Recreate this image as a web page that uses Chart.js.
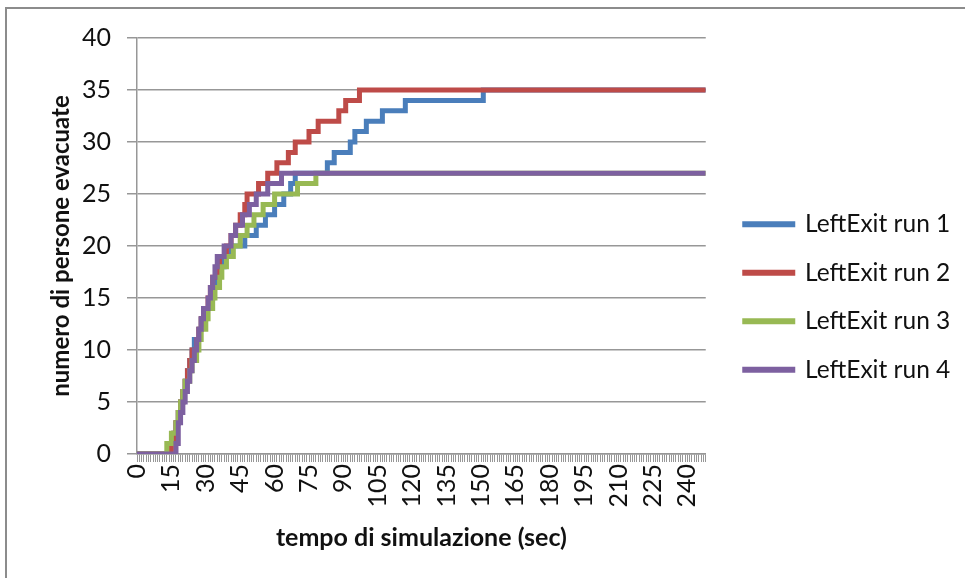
<!DOCTYPE html>
<html>
<head>
<meta charset="utf-8">
<title>LeftExit runs</title>
<script src="https://cdn.jsdelivr.net/npm/chart.js@4.4.1/dist/chart.umd.min.js"></script>
<style>
  html, body { margin:0; padding:0; background:#fff; overflow:hidden; }
  .frame { position:absolute; left:5px; top:7px; width:1000px; height:600px; border:2px solid #8c8c8c; }
  .wrap  { position:absolute; left:0; top:0; width:965px; height:578px; }
</style>
</head>
<body>
<div class="frame"></div>
<div class="wrap"><canvas id="myChart"></canvas></div>
<script>
  // times (sec) at which the evacuated count changes, and the new count
  var run1Times  = [0,14,16,17,18,19,20,21,22,23,24,25,27,28,30,32,33,35,36,38,41,47,52,56,60,64,67,69,83,86,93,95,100,107,117,151,248];
  var run1Counts = [0,1,2,3,4,5,6,7,8,9,10,11,12,13,14,15,16,17,18,19,20,21,22,23,24,25,26,27,28,29,30,31,32,33,34,35,35];
  var run2Times  = [0,15,16,17,18,19,20,21,22,23,24,26,27,28,29,31,32,33,35,36,39,41,43,45,47,48,53,57,61,66,69,75,79,88,91,97,248];
  var run2Counts = [0,1,2,3,4,5,6,7,8,9,10,11,12,13,14,15,16,17,18,19,20,21,22,23,24,25,26,27,28,29,30,31,32,33,34,35,35];
  var run3Times  = [0,13,15,17,18,19,20,21,23,24,26,27,28,30,31,33,34,36,37,39,42,45,48,51,55,60,70,78,248];
  var run3Counts = [0,1,2,3,4,5,6,7,8,9,10,11,12,13,14,15,16,17,18,19,20,21,22,23,24,25,26,27,27];
  var run4Times  = [0,17,18,19,20,21,22,23,24,25,26,27,28,29,31,32,33,34,35,38,41,43,46,49,52,57,63,248];
  var run4Counts = [0,1,3,4,5,6,7,8,9,10,11,12,13,14,15,16,17,18,19,20,21,22,23,24,25,26,27,27];

  var seriesNames  = ['LeftExit run 1', 'LeftExit run 2', 'LeftExit run 3', 'LeftExit run 4'];
  var seriesColors = ['#4a7ebb', '#be4b48', '#98b954', '#7d60a0'];
  var xTickLabels  = [0,15,30,45,60,75,90,105,120,135,150,165,180,195,210,225,240];
  var yTickLabels  = [0,5,10,15,20,25,30,35,40];

  function toPoints(times, counts) {
    return times.map(function(t, i) { return {x: t, y: counts[i]}; });
  }

  var allTimes  = [run1Times, run2Times, run3Times, run4Times];
  var allCounts = [run1Counts, run2Counts, run3Counts, run4Counts];

  var chart_datasets = [];
  for (var i = 0; i < 4; i++) {
    chart_datasets.push({
      label: seriesNames[i],
      data: toPoints(allTimes[i], allCounts[i]),
      borderColor: seriesColors[i],
      backgroundColor: seriesColors[i],
      borderWidth: 5,
      pointRadius: 0,
      stepped: true,
      fill: false,
      order: 4 - i   // later runs drawn on top, as in the original
    });
  }

  var gridGray = '#979797';
  var txt = '#111';

  // push the legend a bit right of the plot and up, like the Excel layout
  var legendShift = {
    id: 'legendShift',
    afterLayout: function(chart) {
      chart.legend.left += 15;
      chart.legend.right += 15;
      chart.legend.top -= 11;
      chart.legend.bottom -= 11;
    }
  };

  var ctx = document.getElementById('myChart').getContext('2d');
  var myChart = new Chart(ctx, {
    type: 'line',
    data: { datasets: chart_datasets },
    plugins: [legendShift],
    options: {
      responsive: true,
      maintainAspectRatio: false,
      animation: false,
      layout: { padding: { top: 38, right: 24, bottom: 0, left: 0 } },
      plugins: {
        tooltip: { enabled: false },
        legend: {
          position: 'right',
          labels: {
            font: { family: 'Lato', size: 24.5 },
            color: txt,
            boxWidth: 48,
            boxHeight: 1,
            padding: 24,
            sort: function(a, b) { return a.datasetIndex - b.datasetIndex; }
          }
        }
      },
      scales: {
        x: {
          type: 'linear',
          min: 0,
          max: 248,
          afterFit: function(scale) { scale.height = 124; },
          grid: { display: true, drawOnChartArea: false, color: gridGray, lineWidth: 1, tickLength: 8 },
          border: { display: true, color: gridGray, width: 1.5 },
          ticks: {
            stepSize: 1,
            autoSkip: false,
            minRotation: 90,
            maxRotation: 90,
            padding: 2,
            color: txt,
            font: { family: 'Lato', size: 25 },
            callback: function(v) { return xTickLabels.indexOf(v) >= 0 ? String(v) : ''; }
          },
          title: {
            display: true,
            text: 'tempo di simulazione (sec)',
            color: txt,
            font: { family: 'Lato', size: 25, weight: 'bold' },
            padding: { top: 0, bottom: 25 }
          }
        },
        y: {
          min: 0,
          max: 40,
          afterFit: function(scale) { scale.width = 137; },
          grid: { color: gridGray, lineWidth: 1.5, tickLength: 10 },
          border: { display: true, color: gridGray, width: 1.5 },
          ticks: {
            stepSize: 5,
            padding: 16,
            color: txt,
            font: { family: 'Lato', size: 25 },
            callback: function(v) { return yTickLabels.indexOf(v) >= 0 ? String(v) : ''; }
          },
          title: {
            display: true,
            text: 'numero di persone evacuate',
            color: txt,
            font: { family: 'Lato', size: 24, weight: 'bold' },
            padding: { top: 47, bottom: 0 }
          }
        }
      }
    }
  });
</script>
</body>
</html>
